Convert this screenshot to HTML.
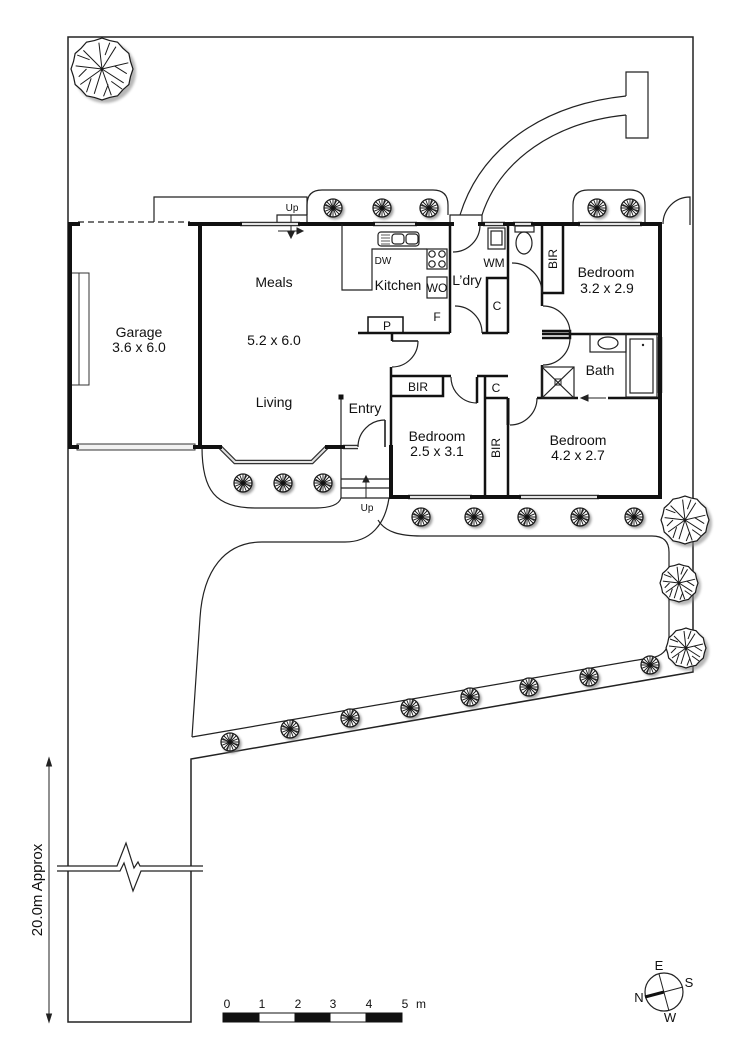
<!DOCTYPE html>
<html><head><meta charset="utf-8">
<style>
html,body{margin:0;padding:0;background:#fff;}
svg{display:block;}
text{font-family:"Liberation Sans",Arial,sans-serif;fill:#111;}
</style></head>
<body>
<svg width="750" height="1061" viewBox="0 0 750 1061" xmlns="http://www.w3.org/2000/svg">
<defs>
<filter id="bl" x="-60%" y="-60%" width="220%" height="220%"><feGaussianBlur stdDeviation="1.3"/></filter>
<g id="sh">
<circle cx="2" cy="2" r="9.5" fill="#777" filter="url(#bl)" opacity=".7"/>
<circle r="9" fill="#fff" stroke="#1a1a1a" stroke-width="1.3"/>
<path d="M0,-8.5V8.5M-8.5,0H8.5M-6,-6L6,6M-6,6L6,-6M-3.2,-7.8L3.2,7.8M3.2,-7.8L-3.2,7.8M-7.8,-3.2L7.8,3.2M-7.8,3.2L7.8,-3.2" stroke="#1a1a1a" stroke-width=".9"/>
<path d="M0,0L2,-8L4,-7ZM0,0L8,2L7,4ZM0,0L-2,8L-4,7ZM0,0L-8,-2L-7,-4Z" fill="#222"/>
<circle r="1.5" fill="#111"/>
</g>
<g id="tr">
<polygon points="1,0 .918,.246 .866,.5 .672,.672 .5,.866 .246,.918 0,1 -.246,.918 -.5,.866 -.672,.672 -.866,.5 -.918,.246 -1,0 -.918,-.246 -.866,-.5 -.672,-.672 -.5,-.866 -.246,-.918 0,-1 .246,-.918 .5,-.866 .672,-.672 .866,-.5 .918,-.246" fill="#fff" stroke="#1a1a1a" stroke-width="1.2" vector-effect="non-scaling-stroke"/>
<path d="M0,0L.85,-.2M0,0L.7,.45M0,0L.3,.85M0,0L-.25,.8M0,0L-.7,.5M0,0L-.85,-.1M0,0L-.6,-.6M0,0L-.1,-.85M0,0L.45,-.72M.4,-.1L.8,.15M-.35,.3L-.5,.75M.1,-.45L.25,-.85M-.4,-.3L-.8,-.45M.3,.4L.65,.65M.2,.5L.05,.88M-.5,0L-.75,.25" stroke="#1a1a1a" stroke-width="1" fill="none" vector-effect="non-scaling-stroke"/>
</g>
<path id="wins" d="M240,224H300M373,224H417M483,224H505M513,224H533M578,224H642M408,497H472M519,497H599M220,447L235,462H312L327,447M343,447H358M660,337V393"/>
</defs>

<!-- site boundary -->
<g fill="none" stroke="#222" stroke-width="1.5">
<path d="M68,1022V37H693V672L191,759V1022Z"/>
</g>

<!-- tree shadows -->
<g fill="#888" opacity=".6" filter="url(#bl)">
<circle cx="105" cy="72" r="31"/>
<circle cx="688" cy="523" r="24"/>
<circle cx="682" cy="586" r="19"/>
<circle cx="689" cy="651" r="20"/>
</g>

<!-- site lines -->
<g fill="none" stroke="#222" stroke-width="1.2">
<path d="M460,215C480,150 540,105 626,96M482,215C500,160 555,122 626,115"/>
<path d="M626,96V72H648V138H626V115"/>
<path d="M450,224V215H482V224"/>
<path d="M663,224A27,27 0 0 1 690,197V225"/>
<path d="M307,224V205Q307,190 322,190H433Q448,190 448,205V215"/>
<path d="M573,224V205Q573,190 588,190H630Q645,190 645,205V224"/>
<path d="M154,222V197H307V215"/>
<path d="M277,224V215H307"/>
<path d="M78,222H190" stroke-dasharray="6,4"/>
<path d="M202,447C202,490 215,508 255,508H315Q338,508 341,498"/>
<path d="M192,737L200,618C203,570 225,542 262,542H345C370,542 385,525 389,498"/>
<path d="M378,520C385,532 400,536 421,536H652Q669,536 669,552V637Q669,653 655,657L192,737"/>
<path d="M341,447V498H390M341,479H390M341,488H390"/>
<path d="M341,398V447"/>
</g>
<rect x="338.5" y="394.5" width="5" height="5" fill="#111"/>

<!-- arrows -->
<g stroke="#222" stroke-width="1" fill="#222">
<path d="M291,215V233" fill="none"/><path d="M288,232L291,238L294,232Z"/>
<path d="M278,231H298" fill="none"/><path d="M297,228L303,231L297,234Z"/>
<path d="M366,498V481" fill="none"/><path d="M363,482L366,476L369,482Z"/>
<path d="M606,398H586" fill="none"/><path d="M588,395L581,398L588,401Z"/>
</g>

<!-- windows -->
<use href="#wins" fill="none" stroke="#333" stroke-width="4.5"/>
<use href="#wins" fill="none" stroke="#e4e4e4" stroke-width="2"/>
<rect x="77" y="444" width="118" height="6" fill="#f2f2f2" stroke="#333" stroke-width="1"/>
<rect x="71" y="273" width="18" height="112" fill="#fff" stroke="#333" stroke-width="1"/>
<path d="M79,273V385" stroke="#333" stroke-width="1"/>

<!-- thick walls -->
<g fill="none" stroke="#111" stroke-width="4" stroke-linecap="square">
<path d="M78,224H70V447H77"/>
<path d="M190,224H240M300,224H373M417,224H452M480,224H483M505,224H513M533,224H578M642,224H660V497H599M519,497H472M408,497H391V447"/>
<path d="M200,224V447H220M327,447H343M195,447H200"/>
</g>

<!-- interior walls -->
<g fill="none" stroke="#111" stroke-width="2.5">
<path d="M391,447V367M391,376H451"/>
<path d="M450,224V333M358,333H450M392,333V341"/>
<path d="M508,224V333M482,333H508M487,333V278H508"/>
<path d="M542,224V306M563,225V293H542"/>
<path d="M542,334H660M542,331H570V338H542"/>
<path d="M542,365V398H578M608,398H660M537,398H542"/>
<path d="M508,398V497M485,376V497M477,376H508M485,398H508"/>
<path d="M443,376V396H392"/>
<path d="M477,377V403"/>
<path d="M508,398V425" stroke-width="3"/>
</g>
<g fill="none" stroke="#111" stroke-width="1.5">
<path d="M368,333V317H403V333"/>
<path d="M392,341H418"/>
<path d="M385,420V447"/>
</g>

<!-- door arcs -->
<g fill="none" stroke="#222" stroke-width="1.2">
<path d="M418,341A26,26 0 0 1 392,367"/>
<path d="M480,225A27,27 0 0 1 453,252"/>
<path d="M455,306A27,27 0 0 1 482,333"/>
<path d="M512,263A30,30 0 0 1 542,293"/>
<path d="M543,306A27,27 0 0 1 570,333"/>
<path d="M570,338A27,27 0 0 1 543,365"/>
<path d="M537,398A27,27 0 0 1 510,425"/>
<path d="M451,377A26,26 0 0 0 477,403"/>
<path d="M358,447A27,27 0 0 1 385,420"/>
</g>

<!-- fixtures -->
<g fill="none" stroke="#222" stroke-width="1.2">
<path d="M342,224V290H372V249H427"/>
<rect x="427" y="249" width="20" height="20"/>
<circle cx="432" cy="254" r="3.2"/><circle cx="442" cy="254" r="3.2"/>
<circle cx="432" cy="264" r="3.2"/><circle cx="442" cy="264" r="3.2"/>
<rect x="427" y="277" width="20" height="21"/>
<rect x="378" y="232" width="41" height="14" rx="3"/>
<path d="M381,235H390M381,238H390M381,241H390M381,244H390" stroke-width=".8"/>
<rect x="392" y="234" width="12" height="10" rx="3"/>
<rect x="406" y="234" width="12" height="10" rx="3"/>
<rect x="488" y="228" width="17" height="21"/>
<rect x="491" y="231" width="11" height="14"/>
<rect x="515" y="226" width="19" height="6"/>
<ellipse cx="524" cy="243" rx="8" ry="11"/>
<rect x="590" y="334" width="36" height="18"/>
<ellipse cx="608" cy="343" rx="10" ry="6"/>
<rect x="626" y="334" width="31" height="63"/>
<rect x="630" y="339" width="23" height="54"/>
<rect x="542" y="367" width="32" height="31"/>
<path d="M542,367L574,398M574,367L542,398"/>
<rect x="555" y="379" width="6" height="6" stroke-width="1"/>
</g>
<circle cx="643" cy="345" r="1.2" fill="#222"/>

<!-- trees -->
<use href="#tr" transform="translate(102,69) scale(31)"/>
<use href="#tr" transform="translate(685,520) scale(24)"/>
<use href="#tr" transform="translate(679,583) scale(19)"/>
<use href="#tr" transform="translate(686,648) scale(20)"/>

<!-- shrubs -->
<use href="#sh" x="333" y="208"/><use href="#sh" x="382" y="208"/><use href="#sh" x="429" y="208"/>
<use href="#sh" x="597" y="208"/><use href="#sh" x="630" y="208"/>
<use href="#sh" x="243" y="483"/><use href="#sh" x="283" y="483"/><use href="#sh" x="323" y="483"/>
<use href="#sh" x="421" y="517"/><use href="#sh" x="474" y="517"/><use href="#sh" x="527" y="517"/><use href="#sh" x="580" y="517"/><use href="#sh" x="634" y="517"/>
<use href="#sh" x="230" y="742"/><use href="#sh" x="290" y="729"/><use href="#sh" x="350" y="718"/><use href="#sh" x="410" y="708"/><use href="#sh" x="470" y="697"/><use href="#sh" x="529" y="687"/><use href="#sh" x="589" y="677"/><use href="#sh" x="650" y="665"/>

<!-- break line -->
<rect x="60" y="866" width="140" height="5" fill="#fff"/>
<g fill="none" stroke="#222" stroke-width="1.2">
<path d="M57,866H117L126,843L134,868L138,862L140,866H203"/>
<path d="M57,871H120L124,863L133,891L141,871H203"/>
</g>

<!-- dimension -->
<g stroke="#222" stroke-width="1" fill="#222">
<path d="M49,762V1018" fill="none"/>
<path d="M46.5,766L49,758L51.5,766Z"/>
<path d="M46.5,1014L49,1022L51.5,1014Z"/>
</g>
<text transform="translate(42,890) rotate(-90)" text-anchor="middle" font-size="15">20.0m Approx</text>

<!-- scale bar -->
<g stroke="#111" stroke-width="1">
<rect x="223" y="1013" width="36" height="9" fill="#111"/>
<rect x="259" y="1013" width="36" height="9" fill="#fff"/>
<rect x="295" y="1013" width="35" height="9" fill="#111"/>
<rect x="330" y="1013" width="36" height="9" fill="#fff"/>
<rect x="366" y="1013" width="36" height="9" fill="#111"/>
</g>
<g font-size="12" text-anchor="middle">
<text x="227" y="1008">0</text><text x="262" y="1008">1</text><text x="298" y="1008">2</text>
<text x="333" y="1008">3</text><text x="369" y="1008">4</text><text x="405" y="1008">5</text><text x="421" y="1008">m</text>
</g>

<!-- compass -->
<circle cx="664" cy="992" r="19" fill="#fff" stroke="#222" stroke-width="1.2"/>
<path d="M664,992L683,987M659,974L669,1011" stroke="#222" stroke-width="1"/>
<path d="M645,997L664,992" stroke="#111" stroke-width="3"/>
<g font-size="13" text-anchor="middle">
<text x="659" y="970">E</text><text x="689" y="987">S</text><text x="639" y="1002">N</text><text x="670" y="1022">W</text>
</g>

<!-- labels -->
<g text-anchor="middle" font-size="14">
<text x="139" y="337">Garage</text>
<text x="139" y="352">3.6 x 6.0</text>
<text x="274" y="287">Meals</text>
<text x="274" y="345">5.2 x 6.0</text>
<text x="274" y="407">Living</text>
<text x="365" y="413">Entry</text>
<text x="398" y="290">Kitchen</text>
<text x="467" y="285">L’dry</text>
<text x="606" y="277">Bedroom</text>
<text x="607" y="293">3.2 x 2.9</text>
<text x="600" y="375">Bath</text>
<text x="437" y="441">Bedroom</text>
<text x="437" y="456">2.5 x 3.1</text>
<text x="578" y="445">Bedroom</text>
<text x="578" y="460">4.2 x 2.7</text>
</g>
<g text-anchor="middle" font-size="12">
<text x="437" y="292">WO</text>
<text x="494" y="267">WM</text>
<text x="437" y="321">F</text>
<text x="497" y="310">C</text>
<text x="387" y="330">P</text>
<text x="418" y="391">BIR</text>
<text x="496" y="392">C</text>
<text transform="translate(557,259) rotate(-90)">BIR</text>
<text transform="translate(500,448) rotate(-90)">BIR</text>
</g>
<g text-anchor="middle" font-size="10">
<text x="383" y="264">DW</text>
<text x="292" y="211">Up</text>
<text x="367" y="511">Up</text>
</g>
</svg>
</body></html>
